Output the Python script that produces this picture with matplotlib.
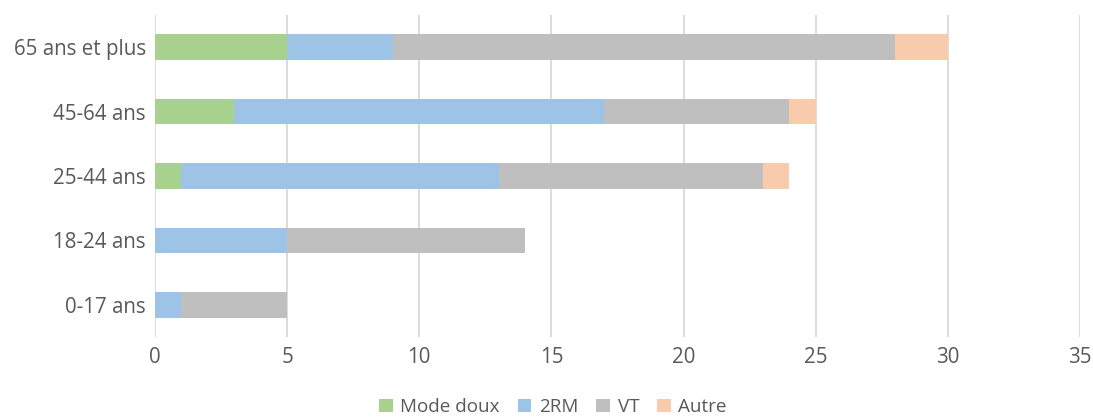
import matplotlib
matplotlib.use("Agg")
import matplotlib.pyplot as plt
from matplotlib.patches import Patch

categories = ["0-17 ans", "18-24 ans", "25-44 ans", "45-64 ans", "65 ans et plus"]
series_names = ["Mode doux", "2RM", "VT", "Autre"]
mode_doux = [0, 0, 1, 3, 5]
rm2 = [1, 5, 12, 14, 4]
vt = [4, 9, 10, 7, 19]
autre = [0, 0, 1, 1, 2]
xticks = [0, 5, 10, 15, 20, 25, 30, 35]

colors = ["#A9D18E", "#9DC3E6", "#BFBFBF", "#F8CBAD"]
text_color = "#595959"

plt.rcParams['font.family'] = ['Open Sans', 'DejaVu Sans']

fig = plt.figure(figsize=(10.93, 4.2), dpi=100)
ax = fig.add_axes([155/1093, 83/420, (1080-155)/1093, (337-15)/420])

left = [0]*len(categories)
ypos = list(range(len(categories)))
for vals, c in zip([mode_doux, rm2, vt, autre], colors):
    ax.barh(ypos, vals, left=left, height=0.4, color=c, zorder=3)
    left = [l + v for l, v in zip(left, vals)]

ax.set_xlim(0, 35)
ax.set_ylim(-0.5, len(categories) - 0.5)
ax.set_xticks(xticks)
ax.set_xticklabels([str(t) for t in xticks])
ax.set_yticks(ypos)
ax.set_yticklabels(categories)
ax.tick_params(axis='both', length=0, labelsize=14.8, colors=text_color)
ax.tick_params(axis='x', pad=7)
ax.tick_params(axis='y', pad=6.5)
ax.grid(axis='x', color="#D9D9D9", linewidth=1.3, zorder=0)
for s in ax.spines.values():
    s.set_visible(False)

handles = [Patch(facecolor=c, edgecolor='none') for c in colors]
fig.legend(handles, series_names, loc='center', bbox_to_anchor=(553/1093, 1 - 407/420),
           ncol=4, frameon=False, fontsize=13.6, labelcolor=text_color,
           handlelength=0.72, handleheight=0.72, handletextpad=0.4, columnspacing=0.95)

fig.savefig("out.png", dpi=100)
